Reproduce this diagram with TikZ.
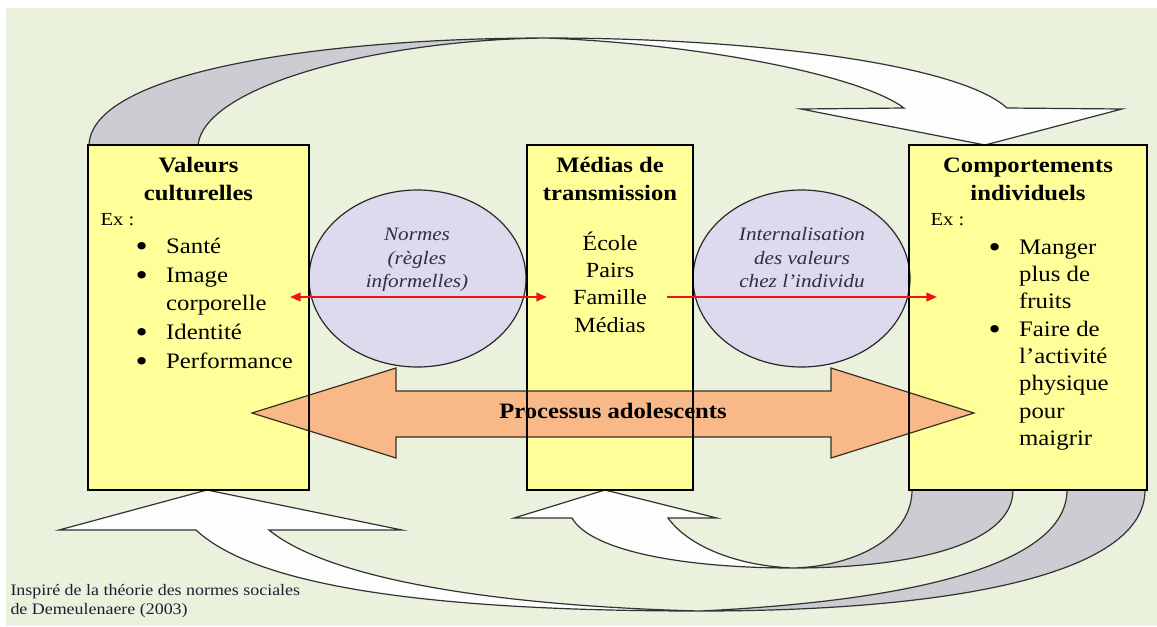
\documentclass[tikz,border=0pt]{standalone}
\usepackage{fontspec}
\setmainfont{Liberation Serif}[FakeStretch=1.12]
\usetikzlibrary{shapes.geometric,arrows.meta}
\tikzset{every picture/.style={line width=0.75pt}}
\newcommand{\puce}{\makebox[23pt][l]{\raisebox{-0.14em}{\scalebox{1.4}{\textbullet}}}}
\newcommand{\retrait}{\hspace*{23pt}}

\begin{document}
\begin{tikzpicture}[x=0.75pt,y=0.75pt,yscale=-1,xscale=1,
  boite/.style={draw={rgb, 255:red, 0; green, 0; blue, 0 }, fill={rgb, 255:red, 255; green, 255; blue, 153 }, inner sep=0pt, outer sep=0pt, minimum height=258.75pt, line width=1pt},
  cadre/.style={draw={rgb, 255:red, 0; green, 0; blue, 0 }, line width=1pt},
  bulle/.style={ellipse, draw={rgb, 255:red, 40; green, 40; blue, 40 }, fill={rgb, 255:red, 222; green, 218; blue, 238 }, inner sep=0pt, minimum width=162.75pt, minimum height=132.75pt, line width=0.9pt},
  contour/.style={draw={rgb, 255:red, 50; green, 50; blue, 50 }, line width=0.9pt},
  dos/.style={contour, fill={rgb, 255:red, 204; green, 204; blue, 210 }},
  face/.style={contour, fill={rgb, 255:red, 253; green, 253; blue, 253 }},
  titre/.style={anchor=north, inner sep=0pt, align=center, font=\fontsize{16.5}{21}\selectfont\bfseries},
  liste/.style={anchor=north west, inner sep=0pt, align=left},
  exemple/.style={anchor=north west, inner sep=0pt, font=\fontsize{13.8}{16}\selectfont},
  norme/.style={anchor=north, inner sep=0pt, align=center, text={rgb, 255:red, 45; green, 45; blue, 75 }, font=\fontsize{14.2}{17.6}\selectfont\itshape},
  rouge/.style={draw={rgb, 255:red, 240; green, 20; blue, 20 }, line width=1.5pt}
]
\useasboundingbox (0,0) rectangle (1157,626);

%Shape: Rectangle [id:background]
\fill [white] (0,0) rectangle (1157,626);
\fill [fill={rgb, 255:red, 234; green, 242; blue, 222 }] (6,8) rectangle (1157,626);

%Curve Lines: top arrow, back side
\draw [dos] (89,145) .. controls (92,70) and (330,38) .. (546,38) .. controls (380,40) and (205,85) .. (198,145) -- cycle ;
%Curve Lines: top arrow, front side
\draw [face] (546,38) .. controls (760,38) and (960,65) .. (1007,108) -- (1122,109) -- (985,145) -- (801,109) -- (904,108) .. controls (860,75) and (700,44) .. (546,38) -- cycle ;

%Curve Lines: bottom arrow to the left box, back side
\draw [dos] (1145,490) .. controls (1145,575) and (950,611) .. (700,611) .. controls (930,600) and (1067,560) .. (1067,490) -- cycle ;
%Curve Lines: bottom arrow to the left box, front side
\draw [face] (700,611) .. controls (450,611) and (260,590) .. (196,530) -- (59,530) -- (207,490) -- (402,530) -- (269,530) .. controls (330,580) and (500,606) .. (700,611) -- cycle ;

%Curve Lines: bottom arrow to the middle box, back side
\draw [dos] (1013,490) .. controls (1013,545) and (910,568) .. (793,568) .. controls (860,566) and (912,535) .. (912,490) -- cycle ;
%Curve Lines: bottom arrow to the middle box, front side
\draw [face] (793,568) .. controls (680,568) and (590,550) .. (572,518) -- (514,518) -- (605,490) -- (717,518) -- (668,518) .. controls (690,548) and (740,566) .. (793,568) -- cycle ;

%Shape: Rectangle [id:valeurs]
\node [boite, minimum width=165.75pt] (valeurs) at (198.5,317.5) {};
%Shape: Rectangle [id:medias]
\node [boite, minimum width=124.5pt] (medias) at (610,317.5) {};
%Shape: Rectangle [id:comportements]
\node [boite, minimum width=178.5pt] (comportements) at (1028,317.5) {};

%Shape: Ellipse [id:normes]
\node [bulle] (normes) at (417.5,278.5) {};
%Shape: Ellipse [id:internalisation]
\node [bulle] (internalisation) at (801.5,278.5) {};

%Shape: Double Arrow [id:processus]
\draw [draw={rgb, 255:red, 60; green, 45; blue, 35 }, fill={rgb, 255:red, 248; green, 184; blue, 136 }, line width=0.9pt] (252,413) -- (396,368) -- (396,391) -- (831,391) -- (831,368) -- (974,413) -- (831,458) -- (831,437) -- (396,437) -- (396,458) -- cycle ;
% box edges seen over the arrow
\draw [cadre] (valeurs.north west) rectangle (valeurs.south east) ;
\draw [cadre] (medias.north west) rectangle (medias.south east) ;
\draw [cadre] (comportements.north west) rectangle (comportements.south east) ;

%Straight Lines: red arrows
\coordinate (normesG) at (290,297) ;
\coordinate (normesD) at (547,297) ;
\coordinate (interG) at (667,297) ;
\coordinate (interD) at (937,297) ;
\draw [rouge, {Triangle[length=8pt,width=6.5pt]}-{Triangle[length=8pt,width=6.5pt]}] (normesG) -- (normesD) ;
\draw [rouge, -{Triangle[length=8pt,width=6.5pt]}] (interG) -- (interD) ;

% Text Node
\node [titre] (tValeurs) at (198.5,157) {Valeurs\\culturelles};
% Text Node
\node [exemple] (exValeurs) at (100,213) {Ex :};
% Text Node
\node [liste, font=\fontsize{16.6}{21.4}\selectfont] (lValeurs) at (135,238) {\puce Santé\\\puce Image\\\retrait corporelle\\\puce Identité\\\puce Performance};
% Text Node
\node [titre] (tMedias) at (610,157) {Médias de\\transmission};
% Text Node
\node [anchor=north, inner sep=0pt, align=center, font=\fontsize{16.2}{20.5}\selectfont] (lMedias) at (610,231) {École\\Pairs\\Famille\\Médias};
% Text Node
\node [titre] (tComportements) at (1028,157) {Comportements\\individuels};
% Text Node
\node [exemple] (exComportements) at (930,213) {Ex :};
% Text Node
\node [liste, font=\fontsize{16.6}{20.5}\selectfont] (lComportements) at (988,239) {\puce Manger\\\retrait plus de\\\retrait fruits\\\puce Faire de\\\retrait l’activité\\\retrait physique\\\retrait pour\\\retrait maigrir};
% Text Node
\node [norme] (tNormes) at (417,228) {Normes\\(règles\\informelles)};
% Text Node
\node [norme] (tInternalisation) at (802,227) {Internalisation\\des valeurs\\chez l’individu};
% Text Node
\node [inner sep=0pt, font=\fontsize{16.5}{20}\selectfont\bfseries] (tProcessus) at (613,411) {Processus adolescents};
% Text Node
\node [anchor=north west, inner sep=0pt, align=left, text={rgb, 255:red, 30; green, 30; blue, 50 }, font=\fontsize{12}{14.25}\selectfont] (source) at (10,584) {Inspiré de la théorie des normes sociales\\de Demeulenaere (2003)};

\end{tikzpicture}
\end{document}
